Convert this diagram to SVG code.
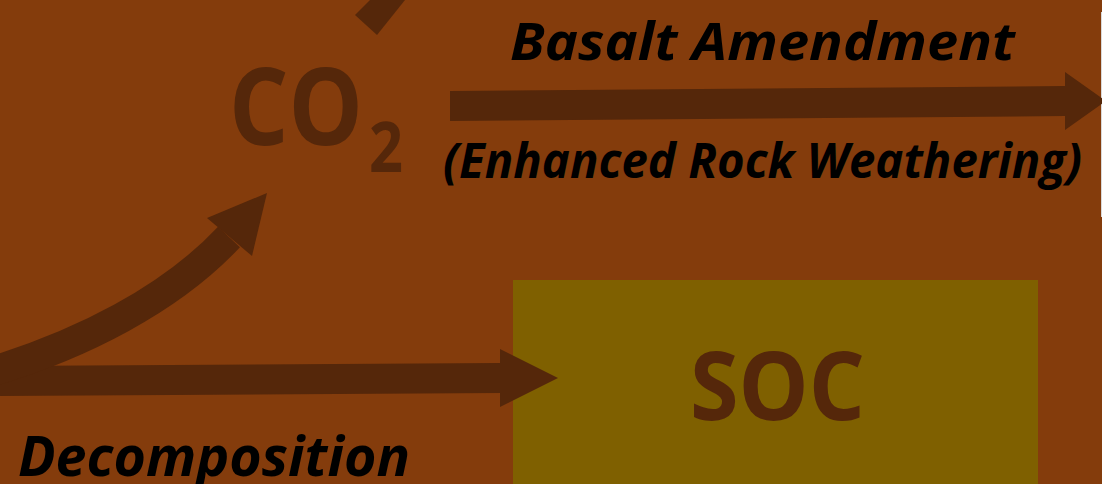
<svg xmlns="http://www.w3.org/2000/svg" width="1102" height="484" viewBox="0 0 1102 484">
  <style>
    .arrow { fill: #55270A; }
    .label { font-family: "Open Sans", "Liberation Sans", sans-serif; font-weight: 700; font-style: italic; fill: #000000; }
    .big { font-family: "Open Sans", "Liberation Sans", sans-serif; font-weight: 700; fill: #55270A; }
  </style>
  <rect x="0" y="0" width="1102" height="484" fill="#843C0C"/>
  <rect x="1101" y="12" width="1" height="205" fill="#D9D9D9"/>
  <g id="soc">
    <rect x="513" y="280" width="525" height="204" fill="#7F6000"/>
    <text class="big" x="690" y="420" font-size="95" textLength="175" lengthAdjust="spacingAndGlyphs">SOC</text>
  </g>
  <g id="co2">
    <text class="big" x="229" y="145" font-size="108" textLength="134" lengthAdjust="spacingAndGlyphs">CO</text>
    <text class="big" x="369" y="172" font-size="70" textLength="34" lengthAdjust="spacingAndGlyphs">2</text>
  </g>
  <g id="labels">
    <text class="label" x="510" y="60" font-size="52" textLength="505" lengthAdjust="spacingAndGlyphs">Basalt Amendment</text>
    <text class="label" x="443" y="178" font-size="48" textLength="639" lengthAdjust="spacingAndGlyphs">(Enhanced Rock Weathering)</text>
    <text class="label" x="18" y="476" font-size="56" textLength="392" lengthAdjust="spacingAndGlyphs">Decomposition</text>
  </g>
  <g id="connectors">
    <polygon class="arrow" points="370,0 405,0 377,35 355,15"/>
    <polygon class="arrow" points="450,91 1065,86 1065,72 1106,101 1065,130 1065,116 450,121"/>
    <polygon class="arrow" points="-5,366 500,363 500,349 558,378 500,407 500,393 -5,396"/>
    <path d="M -10 372 C 80 345, 170 300, 229 237" fill="none" stroke="#55270A" stroke-width="30"/>
    <polygon class="arrow" points="207,218 267,193 252,256"/>
  </g>
</svg>
